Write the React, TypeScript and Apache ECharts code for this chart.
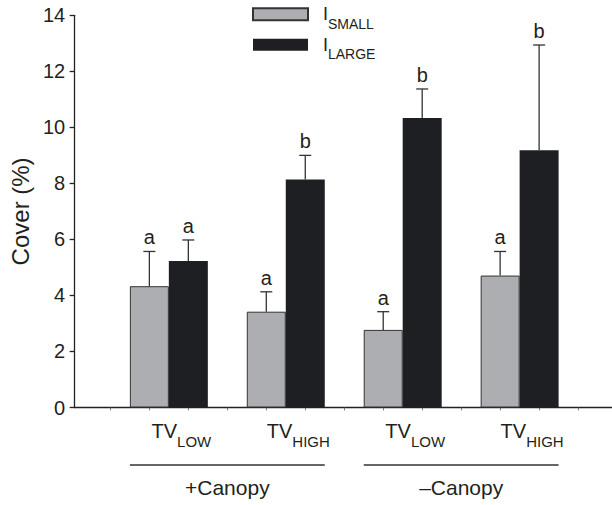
import React, { useEffect, useRef } from "react";
import * as echarts from "echarts";

// ---- data ----
const subLabels = ["LOW", "HIGH", "LOW", "HIGH"]; // TV levels per category
const groups = ["+Canopy", "–Canopy"];
const seriesNames = ["I_SMALL", "I_LARGE"];
const smallMean = [4.33, 3.42, 2.77, 4.71];
const smallSE = [1.24, 0.71, 0.65, 0.86];
const largeMean = [5.23, 8.14, 10.33, 9.18];
const largeSE = [0.75, 0.86, 1.04, 3.76];
const smallLetters = ["a", "a", "a", "a"];
const largeLetters = ["a", "b", "b", "b"];
const yTicks = [0, 2, 4, 6, 8, 10, 12, 14];

const FONT = "'Liberation Sans', Arial, Helvetica, sans-serif";
const TXT = "#231f20";
const GRAY = "#adaeb1";
const BLACK = "#1e1f23";
const EDGE = "#333333";

// slot layout: each category takes 3 slots (small, large, gap)
const smallX = smallMean.map((_, i) => 3 * i + 2);
const largeX = largeMean.map((_, i) => 3 * i + 3);
const labelPos = subLabels.map((_, i) => 3 * i + 2.5);
const tickPos = Array.from({ length: 3 * subLabels.length + 1 }, (_, k) => k + 1);
const groupSpans = groups.map((g, gi) => [3 * (2 * gi) + 1.5, 3 * (2 * gi + 1) + 3.5]);

export default function App() {
  const ref = useRef<HTMLDivElement>(null);
  useEffect(() => {
    if (!ref.current) return;
    const chart = echarts.init(ref.current, undefined, { renderer: "svg" });

    const errSeries = (xs: number[], means: number[], ses: number[], letters: string[], name: string) => ({
      type: "custom",
      name,
      clip: false,
      z: 5,
      data: xs.map((x, i) => [x, means[i], means[i] + ses[i]]),
      encode: { x: 0, y: [1, 2] },
      renderItem: (params: any, api: any) => {
        const x = api.value(0);
        const p0 = api.coord([x, api.value(1)]);
        const p1 = api.coord([x, api.value(2)]);
        const ls = { stroke: EDGE, lineWidth: 1.3 };
        return {
          type: "group",
          children: [
            { type: "line", shape: { x1: p0[0], y1: p0[1], x2: p1[0], y2: p1[1] }, style: ls },
            { type: "line", shape: { x1: p1[0] - 6, y1: p1[1], x2: p1[0] + 6, y2: p1[1] }, style: ls },
            {
              type: "text",
              x: p1[0],
              y: p1[1] - 4,
              style: {
                text: letters[params.dataIndex],
                fill: TXT,
                font: `20px ${FONT}`,
                align: "center",
                verticalAlign: "bottom",
              },
            },
          ],
        };
      },
    });

    const option: any = {
      animation: false,
      textStyle: { fontFamily: FONT },
      grid: { left: 72, right: 0, top: 15.3, bottom: 97.5, containLabel: false },
      legend: {
        data: seriesNames,
        orient: "vertical",
        left: 252,
        top: 5.3,
        padding: 0,
        itemGap: 5,
        itemWidth: 55,
        itemHeight: 12,
        icon: "rect",
        formatter: (n: string) => `{a|I}{b|${n.split("_")[1]}}`,
        textStyle: {
          rich: {
            a: { fontSize: 18, lineHeight: 33, padding: [0, 0, 0, 10], color: TXT, fontFamily: FONT },
            b: { fontSize: 14, lineHeight: 14, verticalAlign: "bottom", color: TXT, fontFamily: FONT },
          },
        },
      },
      xAxis: {
        type: "value",
        min: 0.07,
        max: 13.87,
        splitLine: { show: false },
        axisLine: { show: true, onZero: false, lineStyle: { color: "#222", width: 1.3 } },
        axisTick: { show: true, customValues: tickPos, length: 3, lineStyle: { color: "#666", width: 0.8 } },
        axisLabel: {
          show: true,
          customValues: labelPos,
          margin: 5,
          padding: [0, 0, 0, 25],
          formatter: (v: number) => {
            const i = Math.round((v - 2.5) / 3);
            return `{a|TV}{b|${subLabels[i] ?? ""}}`;
          },
          rich: {
            a: { fontSize: 20, lineHeight: 36, color: TXT, fontFamily: FONT },
            b: { fontSize: 15, lineHeight: 15, verticalAlign: "bottom", color: TXT, fontFamily: FONT },
          },
        },
      },
      yAxis: {
        type: "value",
        min: yTicks[0],
        max: yTicks[yTicks.length - 1],
        interval: 2,
        splitLine: { show: false },
        axisLine: { show: true, lineStyle: { color: "#222", width: 1.3 } },
        axisTick: { show: true, length: 4.5, lineStyle: { color: "#222", width: 1.3 } },
        axisLabel: { fontSize: 20, margin: 9, color: TXT, fontFamily: FONT },
        name: "Cover (%)",
        nameLocation: "middle",
        nameGap: 38,
        nameTextStyle: { fontSize: 24, color: TXT, fontFamily: FONT },
      },
      series: [
        {
          type: "bar",
          name: seriesNames[0],
          data: smallX.map((x, i) => [x, smallMean[i]]),
          barWidth: 39,
          barGap: "-100%",
          itemStyle: { color: GRAY, borderColor: EDGE, borderWidth: 1 },
        },
        {
          type: "bar",
          name: seriesNames[1],
          data: largeX.map((x, i) => [x, largeMean[i]]),
          barWidth: 39,
          barGap: "-100%",
          itemStyle: { color: BLACK, borderWidth: 0 },
        },
        errSeries(smallX, smallMean, smallSE, smallLetters, "errSmall"),
        errSeries(largeX, largeMean, largeSE, largeLetters, "errLarge"),
        {
          type: "custom",
          name: "groups",
          clip: false,
          data: groupSpans.map((s) => [s[0], s[1], 0]),
          encode: { x: [0, 1], y: 2 },
          renderItem: (params: any, api: any) => {
            const a = api.coord([api.value(0), 0]);
            const b = api.coord([api.value(1), 0]);
            const y = a[1] + 57.5;
            return {
              type: "group",
              children: [
                { type: "line", shape: { x1: a[0], y1: y, x2: b[0], y2: y }, style: { stroke: EDGE, lineWidth: 1.3 } },
                {
                  type: "text",
                  x: (a[0] + b[0]) / 2,
                  y: a[1] + 80,
                  style: {
                    text: groups[params.dataIndex],
                    fill: TXT,
                    font: `21px ${FONT}`,
                    align: "center",
                    verticalAlign: "middle",
                  },
                },
              ],
            };
          },
        },
      ],
    };
    chart.setOption(option);
    return () => chart.dispose();
  }, []);
  return <div ref={ref} style={{ width: 612, height: 505, position: "absolute", left: 0, top: 0 }} />;
}
